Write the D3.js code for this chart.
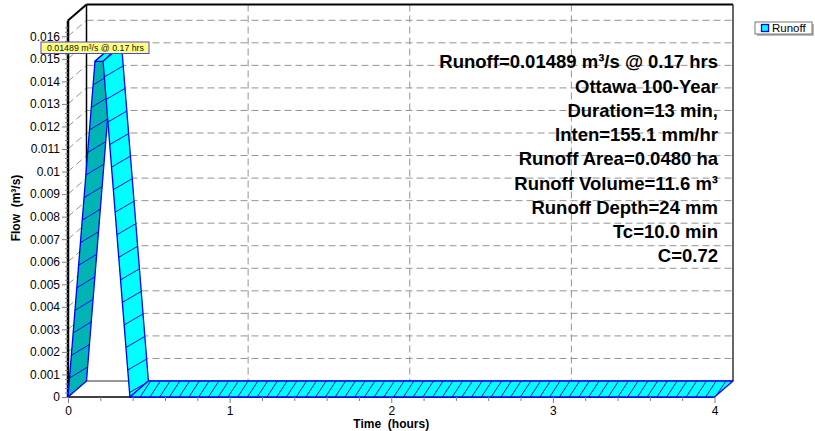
<!DOCTYPE html>
<html><head><meta charset="utf-8">
<script src="https://cdn.jsdelivr.net/npm/d3@7"></script>
<style>body{margin:0;background:#fff} svg{display:block}</style>
</head><body>
<svg id="c" width="815" height="431"></svg>
<script>
// ---- data ----
const timeHours = [0, 0.167, 0.217, 0.383, 4.0];
const runoffCms = [0, 0.01489, 0.01489, 0, 0];
const yTickValues = [0,0.001,0.002,0.003,0.004,0.005,0.006,0.007,0.008,0.009,0.010,0.011,0.012,0.013,0.014,0.015,0.016];
const yTickLabels = ["0","0.001","0.002","0.003","0.004","0.005","0.006","0.007","0.008","0.009","0.01","0.011","0.012","0.013","0.014","0.015","0.016"];
const xTickValues = [0,1,2,3,4];
const xTickLabels = ["0","1","2","3","4"];
const annotationLines = ["Runoff=0.01489 m³/s @ 0.17 hrs","Ottawa 100-Year","Duration=13 min,","Inten=155.1 mm/hr","Runoff Area=0.0480 ha","Runoff Volume=11.6 m³","Runoff Depth=24 mm","Tc=10.0 min","C=0.72"];
const seriesName = "Runoff";
const peakLabel = "0.01489 m³/s @ 0.17 hrs";
const xTitle = "Time  (hours)";
const yTitle = "Flow  (m³/s)";

// ---- layout ----
const FONT = "'Liberation Sans', Arial, Helvetica, sans-serif";
const svg = d3.select("#c").style("font-family", FONT);
const x = d3.scaleLinear().domain([0,4]).range([68,714.5]);
const y = d3.scaleLinear().domain([0,0.0167]).range([397,20.5]);
const DX = 18.5, DY = -16;
const gridCol = "#939393";
const x0 = x(0), x1 = x(4), yb = y(0), yt = y.range()[1];

const back = svg.append("g");
yTickValues.filter(v => v > 0).forEach(v => {
  back.append("line").attr("x1", x0+DX).attr("x2", x1+DX).attr("y1", y(v)+DY).attr("y2", y(v)+DY)
    .attr("stroke", gridCol).attr("stroke-dasharray", "7,4");
  back.append("line").attr("x1", x0).attr("x2", x0+DX).attr("y1", y(v)).attr("y2", y(v)+DY)
    .attr("stroke", gridCol).attr("stroke-dasharray", "7,4");
});
xTickValues.filter(v => v > 0 && v < 4).forEach(v => {
  back.append("line").attr("x1", x(v)+DX).attr("x2", x(v)+DX).attr("y1", yt+DY).attr("y2", yb+DY)
    .attr("stroke", gridCol).attr("stroke-dasharray", "7,4");
});
back.append("line").attr("x1", x0+DX).attr("x2", x1+DX).attr("y1", yt+DY).attr("y2", yt+DY).attr("stroke", "#000").attr("stroke-width", 2);
back.append("line").attr("x1", x1+DX).attr("x2", x1+DX).attr("y1", yt+DY).attr("y2", yb+DY).attr("stroke", "#333").attr("stroke-width", 1.5);
back.append("line").attr("x1", x0+DX).attr("x2", x0+DX).attr("y1", yt+DY).attr("y2", yb+DY).attr("stroke", "#000").attr("stroke-width", 1.5);

const pts = timeHours.map((t,i) => [x(t), y(runoffCms[i])]);
const backPoly = pts.map(p => [p[0]+DX, p[1]+DY]);
back.append("path").attr("d", d3.line()(backPoly.concat([[x1+DX, yb+DY],[x0+DX, yb+DY]])) + "Z").attr("fill", "#fff");
back.append("line").attr("x1", x0+DX).attr("x2", x1+DX).attr("y1", yb+DY).attr("y2", yb+DY).attr("stroke", "#333").attr("stroke-width", 1.2);

back.append("line").attr("x1", x0).attr("x2", x1).attr("y1", yb).attr("y2", yb).attr("stroke", "#000").attr("stroke-width", 1.5);
back.append("line").attr("x1", x0).attr("x2", x0+DX).attr("y1", yb).attr("y2", yb+DY).attr("stroke", "#333").attr("stroke-width", 1);
back.append("line").attr("x1", x0).attr("x2", x0+DX).attr("y1", yt).attr("y2", yt+DY).attr("stroke", "#000").attr("stroke-width", 2);
back.append("line").attr("x1", x0).attr("x2", x0).attr("y1", yt).attr("y2", yb+1).attr("stroke", "#000").attr("stroke-width", 2.5);

// ---- ribbon faces ----
const defs = svg.append("defs");
const faces = d3.range(pts.length-1).map(i => {
  const f0 = pts[i], f1 = pts[i+1];
  return {i, f0, f1, b0:[f0[0]+DX, f0[1]+DY], b1:[f1[0]+DX, f1[1]+DY], rising: f1[1] < f0[1]-0.5};
});
const hy = Math.abs(y(0.001) - y(0));
const fg = svg.append("g");
faces.forEach(f => {
  const poly = [f.f0, f.f1, f.b1, f.b0];
  const id = "clip" + f.i;
  defs.append("clipPath").attr("id", id).append("path").attr("d", d3.line()(poly) + "Z");
  fg.append("path").attr("d", d3.line()(poly) + "Z").attr("fill", f.rising ? "#00b4b4" : "#00ffff");
  const g = fg.append("g").attr("clip-path", `url(#${id})`);
  const dx = f.f1[0]-f.f0[0], dy = f.f1[1]-f.f0[1], len = Math.hypot(dx, dy);
  const u = [dx/len, dy/len];
  const segs = [];
  if (Math.abs(dy) > Math.abs(dx)) {
    const k = 5 / u[1];
    const phase = f.rising ? 19 : 27;
    const ymin = Math.min(f.f0[1], f.f1[1]) - 40, ymax = Math.max(f.f0[1], f.f1[1]) + 40;
    for (let Y = yb - phase + 2*hy; Y >= ymin; Y -= hy) {
      if (Y > ymax) continue;
      const s = (Y - f.f0[1]) / dy;
      const P = [f.f0[0] + s*dx, Y];
      segs.push([P, [P[0] + DX + k*u[0], P[1] + DY + k*u[1]]]);
    }
  } else {
    const k = -8 / u[0];
    for (let X = f.f0[0] + 1.5 - 40; X <= f.f1[0] + 40; X += 9.75) {
      const s = (X - f.f0[0]) / dx;
      const P = [X, f.f0[1] + s*dy];
      segs.push([P, [P[0] + DX + k*u[0], P[1] + DY + k*u[1]]]);
    }
  }
  segs.forEach(sg => g.append("line").attr("x1", sg[0][0]).attr("y1", sg[0][1]).attr("x2", sg[1][0]).attr("y2", sg[1][1])
    .attr("stroke", "#0000ff").attr("stroke-width", 1));
  fg.append("path").attr("d", d3.line()(poly) + "Z").attr("fill", "none").attr("stroke", "#0000ff").attr("stroke-width", 1.3).attr("stroke-linejoin", "round");
});

// ---- axes ----
const yMinor = d3.range(0, 0.0166, 0.0002).filter(v => Math.abs(v*1000 - Math.round(v*1000)) > 1e-6);
const xMinor = d3.range(0, 4.001, 0.2).filter(v => Math.abs(v - Math.round(v)) > 1e-6);
function styleAxis(g) { g.select(".domain").remove(); g.selectAll(".tick line").attr("stroke", "#808080"); g.selectAll("text").attr("fill", "#000").style("font-size", "12px").style("font-family", FONT); }
svg.append("g").attr("transform", `translate(${x0},0)`)
  .call(d3.axisLeft(y).tickValues(yMinor).tickSize(3).tickFormat("")).call(styleAxis);
svg.append("g").attr("transform", `translate(${x0},0)`)
  .call(d3.axisLeft(y).tickValues(yTickValues).tickSize(6).tickPadding(2).tickFormat((d,i) => yTickLabels[i])).call(styleAxis);
svg.append("g").attr("transform", `translate(0,${yb})`)
  .call(d3.axisBottom(x).tickValues(xMinor).tickSize(4).tickFormat("")).call(styleAxis);
svg.append("g").attr("transform", `translate(0,${yb})`)
  .call(d3.axisBottom(x).tickValues(xTickValues).tickSize(6).tickPadding(3).tickFormat((d,i) => xTickLabels[i])).call(styleAxis);

svg.append("text").attr("x", x(2)).attr("y", 428).attr("text-anchor", "middle").style("white-space", "pre")
  .style("font-size", "12px").style("font-weight", "bold").text(xTitle);
svg.append("text").attr("transform", "translate(20,208) rotate(-90)").attr("text-anchor", "middle").style("white-space", "pre")
  .style("font-size", "12px").style("font-weight", "bold").text(yTitle);

annotationLines.forEach((t, i) => {
  svg.append("text").attr("x", 718).attr("y", 68.3 + i*24.25).attr("text-anchor", "end")
    .style("font-size", "18.5px").style("font-weight", "bold").attr("fill", "#000").text(t);
});

const tip = svg.append("g");
tip.append("rect").attr("x", 41).attr("y", 42).attr("width", 108).attr("height", 11.5)
  .attr("fill", "#ffff80").attr("stroke", "#4848e0").attr("stroke-width", 1);
tip.append("text").attr("x", 47).attr("y", 51).style("font-size", "8.8px").attr("fill", "#111").text(peakLabel);

const lg = svg.append("g");
lg.append("rect").attr("x", 757).attr("y", 24).attr("width", 57).attr("height", 12).attr("fill", "#bbb");
lg.append("rect").attr("x", 755).attr("y", 22).attr("width", 57).attr("height", 12).attr("fill", "#fff").attr("stroke", "#555").attr("stroke-width", 0.8);
lg.append("rect").attr("x", 761.5).attr("y", 24.5).attr("width", 7).attr("height", 7).attr("fill", "#00ffff").attr("stroke", "#0000ff").attr("stroke-width", 1.3);
lg.append("text").attr("x", 772).attr("y", 32).style("font-size", "11.5px").attr("fill", "#000").text(seriesName);
</script>
</body></html>
